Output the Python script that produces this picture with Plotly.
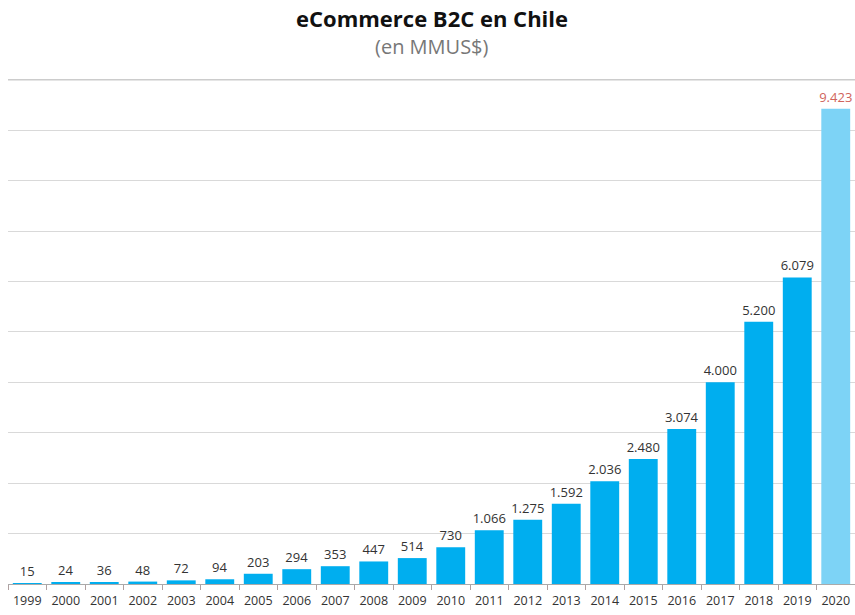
import plotly.graph_objects as go

years = [str(y) for y in range(1999, 2021)]
values = [15, 24, 36, 48, 72, 94, 203, 294, 353, 447, 514, 730, 1066, 1275,
          1592, 2036, 2480, 3074, 4000, 5200, 6079, 9423]
y_max = 10000

bar_colors = ["#00AEEF"] * (len(values) - 1) + ["#7DD3F6"]
label_colors = ["#333333"] * (len(values) - 1) + ["#D0645C"]
labels = [f"{v:,}".replace(",", ".") for v in values]

fig = go.Figure(go.Bar(
    x=years, y=values,
    marker=dict(color=bar_colors, line=dict(width=0)),
    text=labels, textposition="outside", constraintext="none",
    textfont=dict(color=label_colors, size=13, family="Open Sans"),
    cliponaxis=False,
    hoverinfo="x+y",
))

fig.update_layout(
    width=855, height=615,
    margin=dict(l=8, r=0, t=79, b=31, autoexpand=False),
    paper_bgcolor="white", plot_bgcolor="white",
    bargap=0.25,
    showlegend=False,
    font=dict(family="Open Sans", color="#333333"),
    xaxis=dict(
        type="category", tickson="boundaries", ticks="outside", ticklen=5,
        tickangle=0, automargin=False, ticklabelstandoff=5,
        tickcolor="#B0A0A0", showline=True, linecolor="#AAAAAA", linewidth=1,
        tickfont=dict(size=12.5, color="#333333"), showgrid=False,
    ),
    yaxis=dict(
        range=[0, y_max + 15], dtick=1000, showticklabels=False, automargin=False,
        showgrid=True, gridcolor="#D9D9D9", gridwidth=1, zeroline=False,
    ),
    shapes=[
        dict(type="line", xref="paper", x0=0, x1=1, yref="y", y0=y_max, y1=y_max,
             line=dict(color="#CCCCCC", width=1.5), layer="below"),
    ],
    annotations=[
        dict(text="<b>eCommerce B2C en Chile</b>", x=0.5, y=1 + 61 / 505,
             xref="paper", yref="paper", showarrow=False, yanchor="middle",
             font=dict(size=22, color="#111111", family="Open Sans")),
        dict(text="(en MMUS$)", x=0.5, y=1 + 32 / 505,
             xref="paper", yref="paper", showarrow=False, yanchor="middle",
             font=dict(size=20, color="#777777", family="Open Sans")),
    ],
)

fig.write_html("out.html")
